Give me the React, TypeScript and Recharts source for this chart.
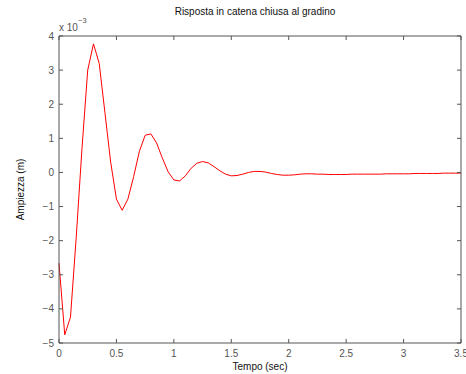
import { LineChart, Line, XAxis, YAxis, Label } from 'recharts'

const times = [
  0, 0.05, 0.1, 0.15, 0.2, 0.25, 0.3, 0.35, 0.4, 0.45,
  0.5, 0.55, 0.6, 0.65, 0.7, 0.75, 0.8, 0.85, 0.9, 0.95,
  1, 1.05, 1.1, 1.15, 1.2, 1.25, 1.3, 1.35, 1.4, 1.45,
  1.5, 1.55, 1.6, 1.65, 1.7, 1.75, 1.8, 1.85, 1.9, 1.95,
  2, 2.05, 2.1, 2.15, 2.2, 2.25, 2.3, 2.35, 2.4, 2.45,
  2.5, 2.55, 2.6, 2.65, 2.7, 2.75, 2.8, 2.85, 2.9, 2.95,
  3, 3.05, 3.1, 3.15, 3.2, 3.25, 3.3, 3.35, 3.4, 3.45, 3.5,
]

// ampiezza in unità di 1e-3 m
const amplitude = [
  -2.66, -4.76, -4.24, -1.9, 0.7, 3.0, 3.77, 3.2, 1.75, 0.3,
  -0.78, -1.11, -0.78, -0.12, 0.62, 1.09, 1.13, 0.86, 0.42, 0.02,
  -0.22, -0.25, -0.1, 0.12, 0.27, 0.32, 0.28, 0.17, 0.05, -0.05,
  -0.1, -0.09, -0.05, 0.0, 0.03, 0.03, 0.01, -0.03, -0.06, -0.08,
  -0.08, -0.07, -0.05, -0.04, -0.04, -0.05, -0.05, -0.06, -0.06, -0.06,
  -0.06, -0.05, -0.05, -0.05, -0.05, -0.05, -0.05, -0.04, -0.04, -0.04,
  -0.04, -0.04, -0.03, -0.03, -0.03, -0.03, -0.03, -0.02, -0.02, -0.02, -0.02,
]

const xTicks = [0, 0.5, 1, 1.5, 2, 2.5, 3, 3.5]
const yTicks = [-5, -4, -3, -2, -1, 0, 1, 2, 3, 4]

const data = times.map((t, i) => ({ t, y: amplitude[i] }))

const FONT = '"Liberation Sans", Arial, Helvetica, sans-serif'
const AXIS = '#555'
const TICK_TEXT = '#555'
const TICK_LEN = 4

const fmt = (v: number) => String(v).replace('-', '\u2212')

function BottomTick({ x, y, payload }: any) {
  return (
    <g>
      <line x1={x} x2={x} y1={y} y2={y - TICK_LEN} stroke={AXIS} />
      <text x={x} y={y + 14} textAnchor="middle" fontSize={10} fill={TICK_TEXT} fontFamily={FONT}>
        {fmt(payload.value)}
      </text>
    </g>
  )
}

function TopTick({ x, y }: any) {
  return <line x1={x} x2={x} y1={y} y2={y + TICK_LEN} stroke={AXIS} />
}

function LeftTick({ x, y, payload }: any) {
  return (
    <g>
      <line x1={x} x2={x + TICK_LEN} y1={y} y2={y} stroke={AXIS} />
      <text x={x - 5} y={y} dy="0.35em" textAnchor="end" fontSize={10} fill={TICK_TEXT} fontFamily={FONT}>
        {fmt(payload.value)}
      </text>
    </g>
  )
}

function RightTick({ x, y }: any) {
  return <line x1={x} x2={x - TICK_LEN} y1={y} y2={y} stroke={AXIS} />
}

export default function App() {
  return (
    <div style={{ position: 'absolute', left: 0, top: 0, background: '#fff' }}>
      <LineChart
        width={466}
        height={374}
        data={data}
        margin={{ top: 35, right: 4, bottom: 30, left: 58 }}
      >
        <XAxis
          dataKey="t"
          type="number"
          domain={[0, 3.5]}
          ticks={xTicks}
          height={1}
          tickSize={0}
          tickMargin={0}
          tickLine={false}
          stroke={AXIS}
          tick={<BottomTick />}
          interval={0}
        >
          <Label
            content={({ viewBox }: any) => (
              <text
                x={viewBox.x + viewBox.width / 2}
                y={viewBox.y + 27}
                textAnchor="middle"
                fontSize={10}
                fill="#111"
                fontFamily={FONT}
              >
                Tempo (sec)
              </text>
            )}
          />
        </XAxis>
        <XAxis
          xAxisId="top"
          dataKey="t"
          orientation="top"
          type="number"
          domain={[0, 3.5]}
          allowDataOverflow
          ticks={xTicks}
          height={1}
          tickSize={0}
          tickMargin={0}
          tickLine={false}
          stroke={AXIS}
          tick={<TopTick />}
          interval={0}
        >
          <Label
            content={() => (
              <text x={255} y={15} textAnchor="middle" fontSize={10} fill="#111" fontFamily={FONT}>
                Risposta in catena chiusa al gradino
              </text>
            )}
          />
        </XAxis>
        <YAxis
          type="number"
          domain={[-5, 4]}
          ticks={yTicks}
          width={1}
          tickSize={0}
          tickMargin={0}
          tickLine={false}
          stroke={AXIS}
          tick={<LeftTick />}
          interval={0}
        >
          <Label
            content={({ viewBox }: any) => {
              const cx = 24
              const cy = viewBox.y + viewBox.height / 2
              return (
                <g>
                  <text
                    x={cx}
                    y={cy}
                    textAnchor="middle"
                    transform={`rotate(-90 ${cx} ${cy})`}
                    fontSize={10}
                    fill="#111"
                    fontFamily={FONT}
                  >
                    Ampiezza (m)
                  </text>
                  <text x={59} y={31} fontSize={10} fill={TICK_TEXT} fontFamily={FONT}>
                    x 10
                  </text>
                  <text x={78} y={23} fontSize={7.5} fill={TICK_TEXT} fontFamily={FONT}>
                    {'\u22123'}
                  </text>
                </g>
              )
            }}
          />
        </YAxis>
        <YAxis
          yAxisId="right"
          dataKey="y"
          orientation="right"
          type="number"
          domain={[-5, 4]}
          allowDataOverflow
          ticks={yTicks}
          width={1}
          tickSize={0}
          tickMargin={0}
          tickLine={false}
          stroke={AXIS}
          tick={<RightTick />}
          interval={0}
        />
        <Line
          dataKey="y"
          type="linear"
          stroke="#ff0000"
          strokeWidth={1}
          dot={false}
          isAnimationActive={false}
        />
      </LineChart>
    </div>
  )
}
